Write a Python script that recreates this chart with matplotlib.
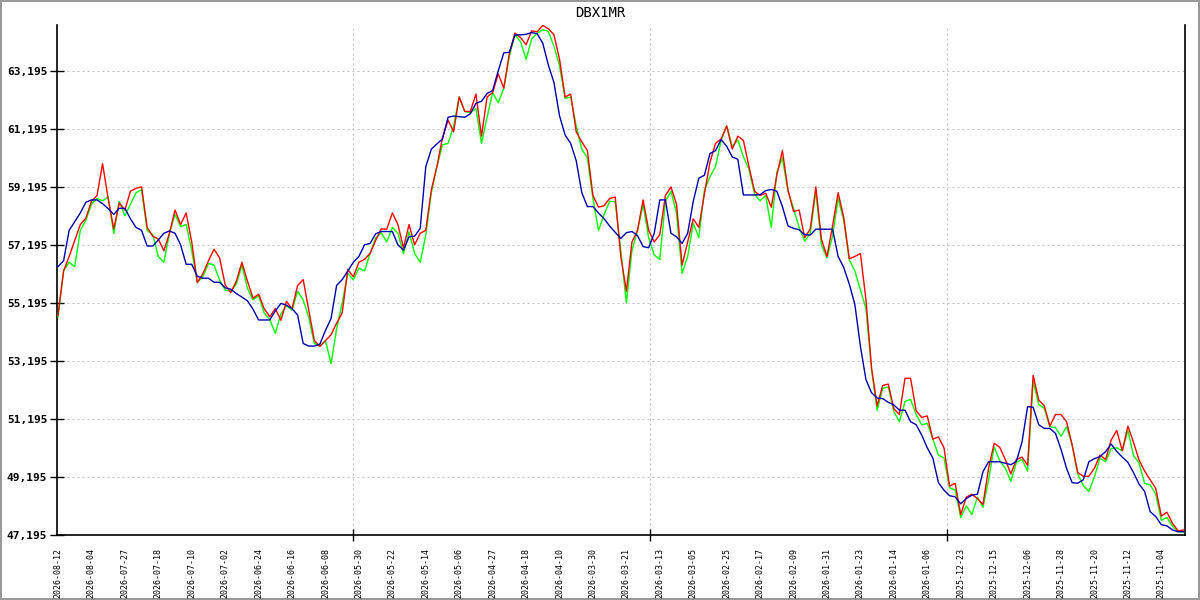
import numpy as np
import matplotlib
matplotlib.use("Agg")
import matplotlib.pyplot as plt
from matplotlib.ticker import FuncFormatter

# newest day on the left, oldest on the right
red = [
    54.78, 56.3, 56.8, 57.35, 57.9, 58.12, 58.7, 58.9, 60.0, 58.8,
    57.75, 58.65, 58.4, 59.05, 59.15, 59.2, 57.8, 57.5, 57.4, 57.0,
    57.6, 58.4, 57.9, 58.3, 57.3, 55.9, 56.2, 56.65, 57.05, 56.75,
    55.82, 55.55, 55.95, 56.6, 55.95, 55.36, 55.5, 55.0, 54.72, 55.0,
    54.6, 55.25, 55.0, 55.8, 56.0, 54.95, 53.9, 53.7, 53.9, 54.1,
    54.5, 54.85, 56.35, 56.1, 56.6, 56.7, 56.9, 57.35, 57.75, 57.74,
    58.3, 57.9, 57.1, 57.9, 57.2, 57.6, 57.7, 59.1, 59.9, 60.9,
    61.5, 61.1, 62.3, 61.8, 61.8, 62.4, 60.95, 62.3, 62.45, 63.1,
    62.6, 63.8, 64.5, 64.35, 64.1, 64.58, 64.55, 64.77, 64.65, 64.45,
    63.6, 62.3, 62.4, 61.1, 60.75, 60.45, 58.9, 58.5, 58.55, 58.8,
    58.85, 56.8, 55.6, 57.3, 57.7, 58.75, 57.7, 57.3, 57.55, 58.9,
    59.2, 58.6, 56.5, 57.3, 58.1, 57.8, 58.95, 60.05, 60.7, 60.85,
    61.3, 60.5, 60.95, 60.8, 59.9, 59.05, 58.9, 58.98, 58.5, 59.6,
    60.45, 59.1, 58.35, 58.4, 57.45, 57.75, 59.2, 57.4, 56.8, 57.85,
    59.0, 58.15, 56.72, 56.8, 56.9, 55.3, 52.95, 51.65, 52.35, 52.4,
    51.55, 51.35, 52.6, 52.6, 51.48, 51.25, 51.3, 50.5, 50.58, 50.2,
    48.88, 48.98, 47.9, 48.5, 48.6, 48.45, 48.25, 49.5, 50.36, 50.22,
    49.8, 49.3, 49.8, 49.88, 49.6, 52.7, 51.85, 51.65, 50.95, 51.35,
    51.35, 51.1, 50.3, 49.35, 49.22, 49.22, 49.5, 49.95, 49.8, 50.47,
    50.8, 50.1, 50.95, 50.4, 49.78, 49.4, 49.1, 48.8, 47.85, 47.98,
    47.6, 47.34, 47.37]

green = [
    54.72, 56.3, 56.6, 56.45, 57.7, 58.05, 58.6, 58.8, 58.72, 58.85,
    57.6, 58.7, 58.2, 58.6, 59.0, 59.1, 57.7, 57.55, 56.8, 56.6,
    57.6, 58.25, 57.83, 57.9, 57.0, 55.9, 56.1, 56.56, 56.5, 55.99,
    55.64, 55.6, 55.85, 56.5, 55.7, 55.3, 55.45, 54.85, 54.62, 54.15,
    54.82, 55.1, 54.95, 55.6, 55.3, 54.7, 53.8, 53.7, 53.9, 53.1,
    54.3, 55.2, 56.22, 55.99, 56.4, 56.3, 56.9, 57.43, 57.62, 57.3,
    57.8, 57.6, 56.9, 57.65, 56.9, 56.6, 57.54, 59.0, 59.9, 60.65,
    60.7, 61.3, 62.3, 61.8, 61.75, 61.9, 60.7, 61.6, 62.45, 62.1,
    62.6, 63.7, 64.45, 64.2, 63.6, 64.3, 64.5, 64.62, 64.56, 64.05,
    63.38, 62.25, 62.3, 61.3, 60.5, 60.2, 58.8, 57.7, 58.25, 58.7,
    58.69, 57.0, 55.2, 57.0, 57.7, 58.6, 57.45, 56.85, 56.7, 58.7,
    59.05, 58.3, 56.22, 56.8, 57.95, 57.45, 59.09, 59.55, 59.9, 60.8,
    61.3, 60.6, 60.82, 60.24, 59.8, 58.95, 58.72, 58.9, 57.8, 59.7,
    60.2, 59.05, 58.45, 57.8, 57.32, 57.6, 59.05, 57.2, 56.75, 57.5,
    58.8, 58.05, 56.68, 56.3, 55.65, 55.0, 52.9, 51.5, 52.25, 52.3,
    51.45, 51.1, 51.8, 51.87, 51.35, 50.99, 51.05, 50.5, 49.95, 49.85,
    48.82, 48.75, 47.8, 48.2, 47.9, 48.5, 48.15, 49.1, 50.24, 49.75,
    49.5, 49.05, 49.7, 49.8, 49.4, 52.5, 51.7, 51.56, 50.93, 50.9,
    50.6, 50.93, 50.3, 49.3, 48.9, 48.7, 49.2, 49.85, 49.72, 50.18,
    50.2, 50.1, 50.8, 49.95, 49.67, 48.98, 48.92, 48.6, 47.7, 47.8,
    47.5, 47.3, 47.3]

blue = [
    56.45, 56.65, 57.7, 58.0, 58.3, 58.67, 58.75, 58.75, 58.62, 58.45,
    58.25, 58.46, 58.46, 58.1, 57.8, 57.7, 57.16, 57.16, 57.37, 57.6,
    57.68, 57.6, 57.2, 56.53, 56.53, 56.12, 56.05, 56.05, 55.91, 55.91,
    55.72, 55.67, 55.52, 55.4, 55.27, 54.98, 54.61, 54.61, 54.61, 54.92,
    55.18, 55.12, 55.0, 54.78, 53.8, 53.71, 53.71, 53.78, 54.25, 54.66,
    55.8, 56.0, 56.3, 56.6, 56.8, 57.2, 57.25, 57.58, 57.66, 57.66,
    57.66, 57.2, 57.02, 57.48, 57.5, 57.77, 59.89, 60.5, 60.68, 60.85,
    61.6, 61.64, 61.62, 61.6, 61.72, 62.08, 62.15, 62.42, 62.52, 63.2,
    63.82, 63.84, 64.44, 64.44, 64.46, 64.52, 64.48, 64.15, 63.4, 62.8,
    61.65, 60.99, 60.7, 60.1, 59.0, 58.52, 58.52, 58.3, 58.1, 57.85,
    57.63, 57.42, 57.62, 57.66, 57.52, 57.14, 57.1, 57.6, 58.75, 58.75,
    57.6, 57.48, 57.25, 57.6, 58.7, 59.5, 59.6, 60.35, 60.45, 60.83,
    60.6, 60.23, 60.15, 58.92, 58.92, 58.92, 58.93, 59.07, 59.11, 59.05,
    58.52, 57.85, 57.77, 57.72, 57.55, 57.54, 57.74, 57.74, 57.74, 57.74,
    56.8, 56.42, 55.85, 55.15, 53.7, 52.55, 52.1, 51.92, 51.9, 51.77,
    51.68, 51.5, 51.5, 51.1, 51.0, 50.64, 50.2, 49.85, 49.0, 48.74,
    48.55, 48.51, 48.27, 48.45, 48.57, 48.6, 49.38, 49.72, 49.72, 49.72,
    49.67, 49.62, 49.74, 50.4, 51.62, 51.6, 51.0, 50.87, 50.87, 50.7,
    50.15, 49.49, 49.0, 48.98, 49.1, 49.72, 49.83, 49.9, 50.07, 50.33,
    50.08, 49.88, 49.7, 49.35, 48.95, 48.7, 48.0, 47.83, 47.55, 47.51,
    47.37, 47.31, 47.31]

date_labels = ['2026-08-12', '2026-08-04', '2026-07-27', '2026-07-18', '2026-07-10',
               '2026-07-02', '2026-06-24', '2026-06-16', '2026-06-08', '2026-05-30',
               '2026-05-22', '2026-05-14', '2026-05-06', '2026-04-27', '2026-04-18',
               '2026-04-10', '2026-03-30', '2026-03-21', '2026-03-13', '2026-03-05',
               '2026-02-25', '2026-02-17', '2026-02-09', '2026-01-31', '2026-01-23',
               '2026-01-14', '2026-01-06', '2025-12-23', '2025-12-15', '2025-12-06',
               '2025-11-28', '2025-11-20', '2025-11-12', '2025-11-04']
label_step = 6
y_ticks = [47.195, 49.195, 51.195, 53.195, 55.195, 57.195, 59.195, 61.195, 63.195]

fig = plt.figure(figsize=(12, 6), dpi=100)
fig.patch.set_edgecolor('#999999')
fig.patch.set_linewidth(1.5)
ax = fig.add_axes([57 / 1200, 65 / 600, 1128 / 1200, 510 / 600])

ax.plot(np.arange(len(green)), green, color='#00ff00', lw=1.0, zorder=3)
ax.plot(np.arange(len(red)), red, color='#ff0000', lw=1.0, zorder=4)
ax.plot(np.arange(len(blue)), blue, color='#0000aa', lw=1.0, zorder=5)

ax.set_xlim(-0.18, 202.25)
ax.set_ylim(47.195, 47.195 + 510 / 29)

mono = 'DejaVu Sans Mono'
ax.set_yticks(y_ticks)
ax.yaxis.set_major_formatter(FuncFormatter(lambda v, p: ('%.3f' % v).replace('.', ',')))
for t in ax.get_yticklabels():
    t.set_fontfamily(mono)
    t.set_fontweight('bold')
    t.set_fontsize(8)
ax.tick_params(axis='y', direction='inout', length=10, width=1, pad=2)

label_pos = np.arange(len(date_labels)) * label_step
ax.set_xticks(label_pos)
ax.set_xticklabels(date_labels, rotation=90, fontfamily=mono, fontsize=6)
ax.tick_params(axis='x', which='major', length=0, pad=9)

# the three dashed vertical separators with their tick marks
ax.set_xticks([53, 106.3, 159.5], minor=True)
ax.tick_params(axis='x', which='minor', direction='inout', length=9, width=1)

dash = (0, (2, 3))
ax.grid(axis='y', which='major', color='#c0c0c0', lw=0.72, linestyle=dash)
ax.grid(axis='x', which='minor', color='#c0c0c0', lw=0.72, linestyle=dash)
ax.grid(axis='x', which='major', visible=False)

ax.spines['top'].set_visible(False)
for s in ['left', 'bottom', 'right']:
    ax.spines[s].set_linewidth(1.2)

fig.text(0.5, 0.979, 'DBX1MR', ha='center', va='center', fontfamily=mono, fontsize=10)

fig.savefig('out.png', dpi=100, edgecolor=fig.get_edgecolor())
